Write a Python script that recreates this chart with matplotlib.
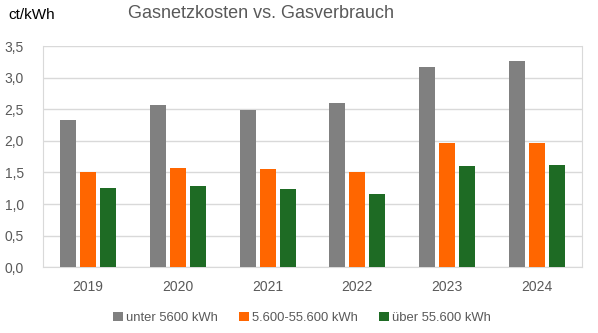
import matplotlib
matplotlib.use("Agg")
import matplotlib.pyplot as plt
import numpy as np

plt.rcParams['font.family'] = ['Liberation Sans', 'DejaVu Sans']

years = ['2019', '2020', '2021', '2022', '2023', '2024']
unter_5600 = [2.33, 2.57, 2.49, 2.60, 3.17, 3.26]
mittel = [1.51, 1.57, 1.555, 1.51, 1.97, 1.97]
ueber_55600 = [1.255, 1.29, 1.24, 1.16, 1.60, 1.62]

series = [
    ('unter 5600 kWh', unter_5600, '#808080'),
    ('5.600-55.600 kWh', mittel, '#ff6600'),
    ('über 55.600 kWh', ueber_55600, '#1e6b24'),
]

fig = plt.figure(figsize=(5.98, 3.33), dpi=100)
ax = fig.add_axes([43.3 / 598, 1 - 267.3 / 333, 538.4 / 598, 221.3 / 333])

x = np.arange(len(years))
w = 0.178
step = 0.223
for i, (name, vals, col) in enumerate(series):
    ax.bar(x + (i - 1) * step, vals, width=w, color=col, label=name, zorder=3)

ax.set_xlim(-0.5, len(years) - 0.5)
ax.set_ylim(0, 3.5)
ax.set_yticks(np.arange(0, 3.51, 0.5))
ax.set_yticklabels([f'{v:.1f}'.replace('.', ',') for v in np.arange(0, 3.51, 0.5)])
ax.set_xticks(x)
ax.set_xticklabels(years)
ax.yaxis.grid(True, color='#d9d9d9', linewidth=1, zorder=0)
ax.tick_params(length=0, colors='#595959', labelsize=10)
ax.tick_params(axis='y', pad=14)
ax.tick_params(axis='x', pad=9)
for s in ['left', 'right', 'bottom']:
    ax.spines[s].set_color('#d9d9d9')
ax.spines['top'].set_visible(False)

fig.text(261 / 598, 1 - 14 / 333, 'Gasnetzkosten vs. Gasverbrauch', ha='center', va='center',
         fontsize=13, color='#595959')
fig.text(8 / 598, 1 - 15 / 333, 'ct/kWh', ha='left', va='center', fontsize=11, color='black')

fig.legend(loc='center', bbox_to_anchor=(302 / 598, 1 - 318 / 333), ncol=3, frameon=False,
           fontsize=9.4, handlelength=0.75, handleheight=0.75, handletextpad=0.25,
           columnspacing=1.6, labelcolor='#595959')

fig.savefig('out.png', dpi=100)
